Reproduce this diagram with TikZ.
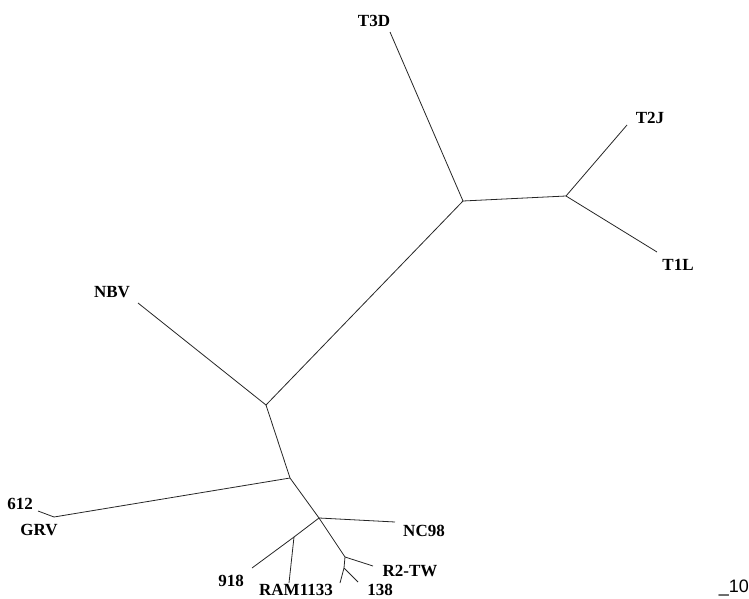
\documentclass[tikz,border=0pt]{standalone}
\usepackage{fontspec}
\setmainfont{Liberation Serif}
\setsansfont{Liberation Sans}
\usepackage{tikz}
\usetikzlibrary{positioning}
\tikzset{
  taxon/.style={font=\fontsize{17}{19}\selectfont\bfseries, inner sep=0pt},
  branch/.style={draw=black!85, line width=0.8pt}
}
\begin{document}
\begin{tikzpicture}[x=1pt, y=-1pt]
\useasboundingbox (0,0) rectangle (749,599);
% Inner joints
\coordinate (jA) at (463,201);
\coordinate (jB) at (566,196);
\coordinate (jC) at (266,405);
\coordinate (jD) at (290,478);
\coordinate (jE) at (319,518);
\coordinate (jF) at (345,557);
\coordinate (jG) at (344,568);
\coordinate (jH) at (294,537);
\coordinate (jI) at (54,517);
% Leaf ends
\coordinate (eT3D) at (390,32);
\coordinate (eT2J) at (627,125);
\coordinate (eT1L) at (657,252);
\coordinate (eNBV) at (138,303);
\coordinate (e612) at (38,511);
\coordinate (eGRV) at (54,518);
\coordinate (eNC98) at (395,522);
\coordinate (eR2) at (373,566);
\coordinate (e1133) at (340,583);
\coordinate (e138) at (358,582);
\coordinate (e918) at (252,568);
\coordinate (eRAM) at (289,583);

% Labels
\node[taxon] (T3D) at (374,21) {T3D};
\node[taxon] (T2J) at (650,118) {T2J};
\node[taxon] (T1L) at (678,265) {T1L};
\node[taxon] (NBV) at (112,292) {NBV};
\node[taxon, anchor=east] (L612) at (33,504) {612};
\node[taxon] (GRV) at (39,530) {GRV};
\node[taxon] (NC98) at (424,531) {NC98};
\node[taxon] (R2TW) at (410,571) {R2-TW};
\node[taxon] (L138) at (380,590) {138};
\node[taxon] (RAM) at (296,590) {RAM1133};
\node[taxon] (L918) at (231,581) {918};
\node[font=\sffamily\fontsize{18}{20}\selectfont, inner sep=0pt, anchor=east] (scale) at (749,588) {\_10};

% Tree
\draw[branch] (jA) -- (eT3D);
\draw[branch] (jA) -- (jB);
\draw[branch] (jB) -- (eT2J);
\draw[branch] (jB) -- (eT1L);
\draw[branch] (jA) -- (jC);
\draw[branch] (jC) -- (eNBV);
\draw[branch] (jC) -- (jD);
\draw[branch] (jD) -- (jI);
\draw[branch] (jI) -- (e612);
\draw[branch] (jD) -- (jE);
\draw[branch] (jE) -- (eNC98);
\draw[branch] (jE) -- (jF);
\draw[branch] (jF) -- (eR2);
\draw[branch] (jF) -- (jG);
\draw[branch] (jG) -- (e1133);
\draw[branch] (jG) -- (e138);
\draw[branch] (jE) -- (jH);
\draw[branch] (jH) -- (e918);
\draw[branch] (jH) -- (eRAM);
\end{tikzpicture}
\end{document}
